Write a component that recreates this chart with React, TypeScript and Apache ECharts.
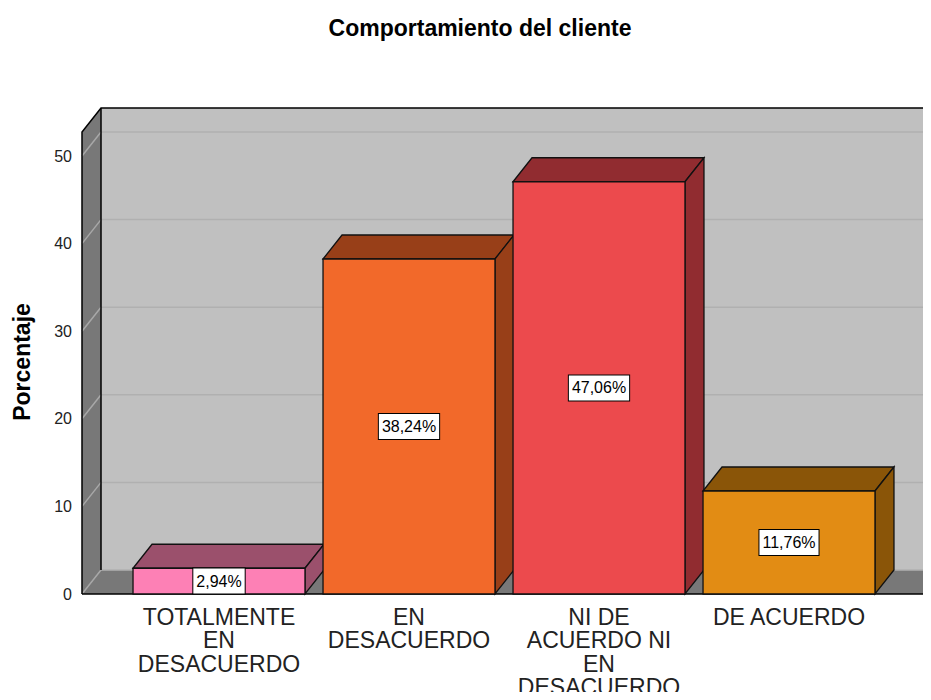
import React, { useEffect, useRef } from "react";
import * as echarts from "echarts";

const categories = [
  "TOTALMENTE\nEN\nDESACUERDO",
  "EN\nDESACUERDO",
  "NI DE\nACUERDO NI\nEN\nDESACUERDO",
  "DE ACUERDO",
];
const percentages = [2.94, 38.24, 47.06, 11.76];
const percentLabels = ["2,94%", "38,24%", "47,06%", "11,76%"];
const yTicks = [0, 10, 20, 30, 40, 50];
const frontColors = ["#fd80b5", "#f2692a", "#ec4a4d", "#e28c14"];
const darkColors = ["#9b506c", "#983f18", "#912c30", "#8a5508"];

const FONT = "'Liberation Sans', Arial, sans-serif";
const DX = 19;
const DY = -24;

export default function App() {
  const ref = useRef<HTMLDivElement>(null);
  useEffect(() => {
    if (!ref.current) return;
    const chart = echarts.init(ref.current, null, { renderer: "svg" });
    const yMax = yTicks[yTicks.length - 1];

    const frameRender = (params: any, api: any) => {
      const cs = params.coordSys;
      const y0 = api.coord([0, 0])[1];
      const fx0 = cs.x - 42;
      const fx1 = cs.x + cs.width + 41;
      const yTop = api.coord([0, yMax])[1] + DY;
      const farRight = 980;
      const children: any[] = [];
      children.push({
        type: "rect",
        shape: { x: fx0 + DX, y: yTop + DY, width: farRight - fx0 - DX, height: y0 - yTop },
        style: { fill: "#c0c0c0", stroke: null },
      });
      children.push({
        type: "polygon",
        shape: { points: [[fx0, yTop], [fx0 + DX, yTop + DY], [fx0 + DX, y0 + DY], [fx0, y0]] },
        style: { fill: "#787878", stroke: null },
      });
      children.push({
        type: "polygon",
        shape: { points: [[fx0, y0], [fx0 + DX, y0 + DY], [fx1 + DX, y0 + DY], [fx1, y0]] },
        style: { fill: "#787878", stroke: null },
      });
      yTicks.forEach((v) => {
        const yv = api.coord([0, v])[1];
        children.push({
          type: "line",
          shape: { x1: fx0 + DX, y1: yv + DY, x2: farRight, y2: yv + DY },
          style: { stroke: "#b0b0b0", lineWidth: 1.5 },
        });
        children.push({
          type: "line",
          shape: { x1: fx0, y1: yv, x2: fx0 + DX, y2: yv + DY },
          style: { stroke: "#a8a8a8", lineWidth: 1.5 },
        });
      });
      children.push({
        type: "polyline",
        shape: { points: [[fx0, y0], [fx0, yTop], [fx0 + DX, yTop + DY], [farRight, yTop + DY]] },
        style: { stroke: "#000", lineWidth: 1.5, fill: null },
      });
      children.push({
        type: "line",
        shape: { x1: fx0 + DX, y1: yTop + DY, x2: fx0 + DX, y2: y0 + DY },
        style: { stroke: "#000", lineWidth: 1.5 },
      });
      children.push({
        type: "polyline",
        shape: { points: [[fx0, y0], [fx1, y0], [fx1 + DX, y0 + DY]] },
        style: { stroke: "#000", lineWidth: 1.5, fill: null },
      });
      return { type: "group", children };
    };

    const barRender = (params: any, api: any) => {
      const i = api.value(0);
      const v = api.value(1);
      const p0 = api.coord([i, 0]);
      const p1 = api.coord([i, v]);
      const bw = api.size([1, 0])[0] * 0.905;
      const x0 = p0[0] - bw / 2;
      const x1 = p0[0] + bw / 2;
      const yt = p1[1];
      const yb = p0[1];
      const idx = params.dataIndex;
      const edge = { stroke: "#111", lineWidth: 1.3 };
      return {
        type: "group",
        children: [
          {
            type: "polygon",
            shape: { points: [[x0, yt], [x0 + DX, yt + DY], [x1 + DX, yt + DY], [x1, yt]] },
            style: { fill: darkColors[idx], ...edge },
          },
          {
            type: "polygon",
            shape: { points: [[x1, yt], [x1 + DX, yt + DY], [x1 + DX, yb + DY], [x1, yb]] },
            style: { fill: darkColors[idx], ...edge },
          },
          {
            type: "rect",
            shape: { x: x0, y: yt, width: bw, height: yb - yt },
            style: { fill: frontColors[idx], ...edge },
          },
          {
            type: "text",
            x: p0[0],
            y: (yt + yb) / 2,
            style: {
              text: percentLabels[idx],
              fontFamily: FONT,
              fontSize: 16,
              lineHeight: 18,
              fill: "#000",
              align: "center",
              verticalAlign: "middle",
              backgroundColor: "#fff",
              borderColor: "#000",
              borderWidth: 1,
              padding: [4, 3, 3, 3],
            },
          },
        ],
      };
    };

    chart.setOption({
      animation: false,
      grid: { left: 124, right: 47, top: 156, bottom: 106 },
      xAxis: {
        type: "category",
        data: categories,
        axisLine: { show: false },
        axisTick: { show: false },
        axisLabel: {
          interval: 0,
          margin: 11,
          fontFamily: FONT,
          fontSize: 23,
          lineHeight: 23.5,
          color: "#222",
          align: "center",
        },
      },
      yAxis: {
        type: "value",
        min: 0,
        max: yMax,
        interval: 10,
        axisLine: { show: false },
        axisTick: { show: false },
        splitLine: { show: false },
        axisLabel: { margin: 52, fontFamily: FONT, fontSize: 16, color: "#222" },
      },
      graphic: [
        {
          type: "text",
          x: 480,
          y: 28,
          style: {
            text: "Comportamiento del cliente",
            fontFamily: FONT,
            fontWeight: "bold",
            fontSize: 23,
            fill: "#000",
            align: "center",
            verticalAlign: "middle",
          },
        },
        {
          type: "text",
          x: 22,
          y: 362,
          rotation: Math.PI / 2,
          style: {
            text: "Porcentaje",
            fontFamily: FONT,
            fontWeight: "bold",
            fontSize: 23,
            fill: "#000",
            align: "center",
            verticalAlign: "middle",
          },
        },
      ],
      series: [
        {
          type: "custom",
          renderItem: frameRender,
          data: [[0, 0]],
          z: 1,
          silent: true,
        },
        {
          type: "custom",
          renderItem: barRender,
          data: percentages.map((v, i) => [i, v]),
          z: 2,
        },
      ],
    });
    return () => chart.dispose();
  }, []);
  return <div ref={ref} style={{ width: 931, height: 700, margin: -8 }} />;
}
